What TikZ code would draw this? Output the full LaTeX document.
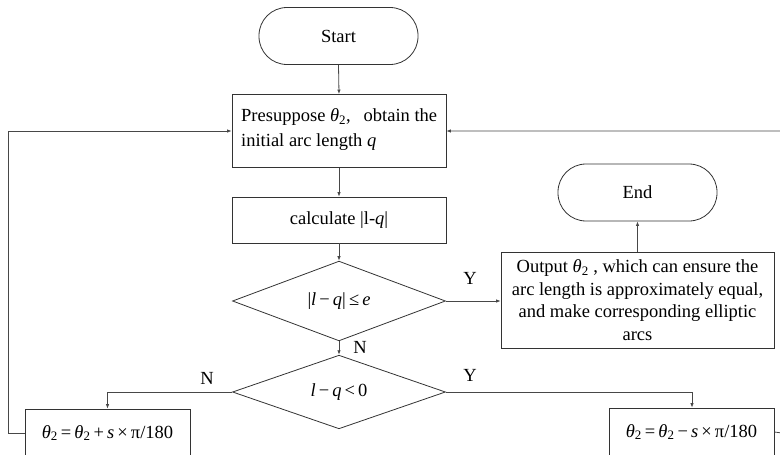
\documentclass[tikz,border=0pt]{standalone}
\usepackage{fontspec}
\setmainfont{Liberation Serif}
\usetikzlibrary{shapes.geometric,arrows.meta}
\newcommand{\thii}{\textit{θ}\textsubscript{2}}
\tikzset{
  ln/.style={draw=black!72, line width=0.8pt},
  arr/.style={ln, -{Latex[length=4.5pt,width=3.5pt]}},
  box/.style={draw=black!80, line width=0.8pt, rectangle, inner sep=0pt, font=\fontsize{18.5}{22.5}\selectfont},
  term/.style={box, rounded corners=28pt},
  dia/.style={draw=black!80, line width=0.8pt, diamond, inner sep=0pt, font=\fontsize{18.5}{22.5}\selectfont},
  lab/.style={font=\fontsize{18.5}{20}\selectfont, inner sep=0pt}
}
\begin{document}
\begin{tikzpicture}[x=1pt,y=-1pt]
\useasboundingbox (0,0) rectangle (780,455);
\clip (0,0) rectangle (780,455);
\node[term, minimum width=159pt, minimum height=57pt] (start) at (338.5,36) {Start};
\node[box, minimum width=214pt, minimum height=73pt] (pre) at (339,131) {};
\node[align=left, inner sep=0pt, font=\fontsize{18.5}{25}\selectfont, anchor=west] (pretxt) at (241,130)
  {Presuppose \thii,\hspace{0.7em}obtain the\\initial arc length \textit{q}};
\node[box, minimum width=214pt, minimum height=46pt] (calc) at (339,220) {calculate |l-\textit{q}|};
\node[dia, minimum width=213pt, minimum height=63pt] (d1) at (339,301) {|\textit{l}\,−\,\textit{q}|\,≤\,\textit{e}};
\node[dia, minimum width=213pt, minimum height=61pt] (d2) at (339,392) {\textit{l}\,−\,\textit{q}\,<\,0};
\node[box, minimum width=273pt, minimum height=96pt, align=center] (out) at (637.5,300)
  {Output \thii\ , which can ensure the\\arc length is approximately equal,\\and make corresponding elliptic\\arcs};
\node[term, minimum width=159pt, minimum height=57pt] (end) at (637.5,192.5) {End};
\node[box, minimum width=165pt, minimum height=48pt] (lbox) at (107.5,433) {\thii\,=\,\thii\,+\,\textit{s}\,×\,π/180};
\node[box, minimum width=165pt, minimum height=48pt] (rbox) at (691.5,432) {\thii\,=\,\thii\,−\,\textit{s}\,×\,π/180};
\coordinate (lc) at (107.5,392);
\coordinate (rc) at (692,392);
\coordinate (lb) at (8,433);
\coordinate (lt) at (8,131);
\coordinate (rb) at (782,433);
\coordinate (rt) at (782,131);
\draw[arr] (start.south) -- (pre.north);
\draw[arr] (pre.south) -- (calc.north);
\draw[arr] (calc.south) -- (d1.north);
\draw[arr] (d1.east) -- (d1.east -| out.west);
\draw[arr] (out.north -| end.south) -- (end.south);
\draw[arr] (d1.south) -- (d2.north);
\draw[arr] (d2.west) -- (lc) -- (lbox.north);
\draw[arr] (d2.east) -- (rc) -- (rc |- rbox.north);
\draw[arr] (lbox.west) -- (lb) -- (lt) -- (pre.west);
\draw[arr] (rbox.east) -- (rb) -- (rt) -- (pre.east);
\node[lab] (ly1) at (470,278) {Y};
\node[lab] (ln1) at (360,347) {N};
\node[lab] (ln2) at (207,378) {N};
\node[lab] (ly2) at (470,375) {Y};
\end{tikzpicture}
\end{document}
